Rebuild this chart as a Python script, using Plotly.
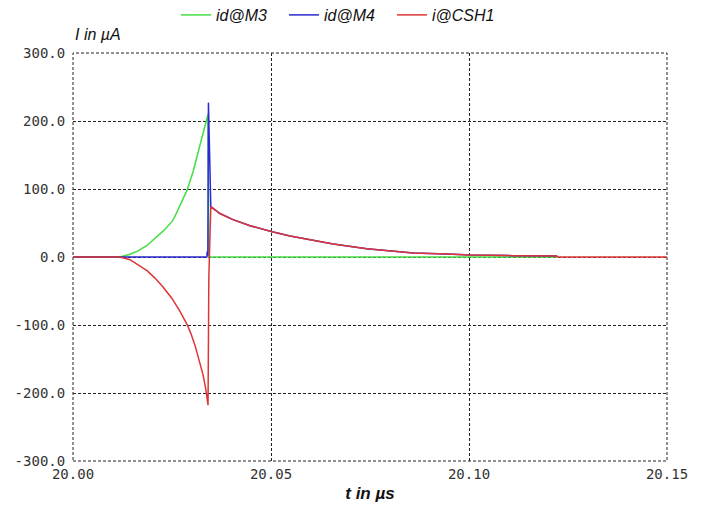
import plotly.graph_objects as go

# ---- data ----
t_m3 = [20.0, 20.01187, 20.01439, 20.01641, 20.01869, 20.02071, 20.02273, 20.02500, 20.02576, 20.02702,
        20.02879, 20.03030, 20.03207, 20.03308, 20.03384, 20.0341, 20.0343, 20.1222]
i_m3 = [0, 0, 4, 9, 17, 27, 38, 52, 60, 76,
        98, 125, 165, 187, 207, 210, 0, 0]

t_m4 = [20.0, 20.0338, 20.0339, 20.03405, 20.0342, 20.0345, 20.0348, 20.0371, 20.0404, 20.0447,
        20.0503, 20.0548, 20.0573, 20.0657, 20.0742, 20.0826, 20.0859, 20.0944, 20.1003, 20.1111,
        20.1222]
i_m4 = [0, 0, 8, 2, 227, 120, 74, 64, 55, 46,
        37, 31, 28, 19, 12, 8, 6, 4.5, 3, 2,
        1.5]

t_csh = [20.0, 20.01187, 20.01439, 20.01641, 20.01869, 20.02071, 20.02273, 20.02500, 20.02702, 20.02879,
         20.02980, 20.03081, 20.03182, 20.03283, 20.03359, 20.0341, 20.0343, 20.0348, 20.0371, 20.0404,
         20.0447, 20.0503, 20.0548, 20.0573, 20.0657, 20.0742, 20.0826, 20.0859, 20.0944, 20.1003,
         20.1111, 20.1222, 20.1224, 20.15]
i_csh = [0, 0, -4, -11, -20, -31, -44, -61, -80, -99,
         -113, -130, -150, -173, -196, -218, -30, 74, 64, 55,
         46, 37, 31, 28, 19, 12, 8, 6, 4.5, 3,
         2, 1.5, 0, 0]

x_ticks = [20.00, 20.05, 20.10, 20.15]
x_ticklabels = ["20.00", "20.05", "20.10", "20.15"]
y_ticks = [-300, -200, -100, 0, 100, 200, 300]
y_ticklabels = ["-300.0", "-200.0", "-100.0", "0.0", "100.0", "200.0", "300.0"]

GREEN = "#44dd44"
BLUE = "#2a2ad0"
RED = "#dd3535"

fig = go.Figure()
fig.add_trace(go.Scatter(x=t_m3, y=i_m3, mode="lines", name="<i>id@M3</i>",
                         line=dict(color=GREEN, width=1.5)))
fig.add_trace(go.Scatter(x=t_m4, y=i_m4, mode="lines", name="<i>id@M4</i>",
                         line=dict(color=BLUE, width=1.5)))
fig.add_trace(go.Scatter(x=t_csh, y=i_csh, mode="lines", name="<i>i@CSH1</i>",
                         line=dict(color=RED, width=1.5)))

grid = dict(showgrid=True, gridcolor="#222222", gridwidth=1, griddash="3px,2px",
            zeroline=False, showline=False, ticks="outside", tickcolor="rgba(0,0,0,0)",
            automargin=False)

fig.update_xaxes(range=[20.0, 20.15], tickvals=x_ticks, ticktext=x_ticklabels, ticklen=0,
                 tickfont=dict(family="DejaVu Sans Mono", size=14, color="#333333"),
                 title=dict(text="<b><i>t in µs</i></b>", font=dict(family="Liberation Sans", size=17, color="#111111"),
                            standoff=6),
                 **grid)
fig.update_yaxes(range=[-300, 300], tickvals=y_ticks, ticktext=y_ticklabels, ticklen=4,
                 tickfont=dict(family="DejaVu Sans Mono", size=14, color="#333333"),
                 **grid)

# dotted frame
fig.add_shape(type="rect", xref="paper", yref="paper", x0=0, y0=0, x1=1, y1=1,
              line=dict(color="#222222", width=1, dash="3px,2px"), layer="below")

fig.add_annotation(text="<i>I in µA</i>", xref="paper", yref="paper", x=0.0, y=1.0,
                   xanchor="left", yanchor="bottom", yshift=8, showarrow=False,
                   font=dict(family="Liberation Sans", size=16, color="#111111"))

fig.update_layout(
    width=696, height=500,
    margin=dict(l=65, r=37, t=45, b=47),
    paper_bgcolor="white", plot_bgcolor="white",
    showlegend=True,
    legend=dict(orientation="h", x=(176 - 73) / 594, xanchor="left", y=0.986, yanchor="middle",
                yref="container", font=dict(family="Liberation Sans", size=16, color="#111111"),
                bgcolor="rgba(0,0,0,0)", itemwidth=30, entrywidth=63),
)

fig.write_html("out.html")
